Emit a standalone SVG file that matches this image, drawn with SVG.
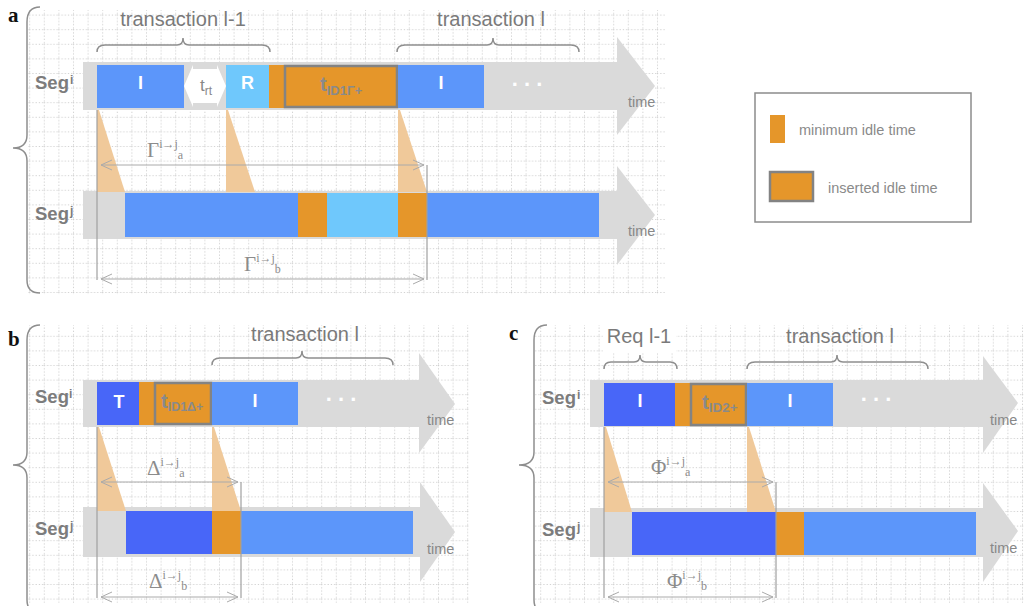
<svg xmlns="http://www.w3.org/2000/svg" width="1024" height="606" viewBox="0 0 1024 606">
  <style>
    .bar { fill: #dadada; }
    .blue { fill: #5c96fa; }
    .dblue { fill: #4866f8; }
    .lblue { fill: #6fc8fc; }
    .org { fill: #e5962a; }
    .ins { fill: #e5962a; stroke: #838383; stroke-width: 2.5; }
    .tri { fill: #f0c99a; }
    .vline { stroke: #a0a0a0; stroke-width: 1.2; }
    .dim { stroke: #aaaaaa; stroke-width: 1; fill: none; marker-start: url(#chev); marker-end: url(#chev); }
    .brace { stroke: #8e8e8e; stroke-width: 1.5; fill: none; }
    .seg { font-family: "Liberation Sans", Arial, sans-serif; font-weight: bold; font-size: 18.5px; fill: #7c7c7c; }
    .sup { font-size: 12px; }
    .lbl { font-family: "Liberation Sans", Arial, sans-serif; font-size: 20px; fill: #7a7a7a; }
    .blk { font-family: "Liberation Sans", Arial, sans-serif; font-weight: bold; font-size: 18px; fill: #ffffff; text-anchor: middle; }
    .dots { font-family: "Liberation Sans", Arial, sans-serif; font-weight: bold; font-size: 22px; fill: #ffffff; text-anchor: middle; }
    .time { font-family: "Liberation Sans", Arial, sans-serif; font-size: 14.5px; fill: #888888; }
    .tid { font-family: "Liberation Sans", Arial, sans-serif; font-weight: bold; font-size: 20px; fill: #8a8a8a; }
    .math { font-family: "Liberation Serif", "Times New Roman", serif; font-size: 21px; fill: #8c8c8c; }
    .mi { font-size: 12px; }
    .panel { font-family: "Liberation Serif", "Times New Roman", serif; font-weight: bold; font-size: 21px; fill: #111111; }
    .leg { font-family: "Liberation Sans", Arial, sans-serif; font-size: 14.5px; fill: #8a8a8a; }
  </style>
  <defs>
    <pattern id="grid" width="14.6" height="14.6" patternUnits="userSpaceOnUse">
      <path d="M0.5,0 V14.6 M0,0.5 H14.6" stroke="#cfcfcf" stroke-width="1" stroke-dasharray="1.2 2" fill="none"/>
    </pattern>
    <marker id="chev" viewBox="0 0 12 12" markerWidth="12" markerHeight="12" refX="11" refY="6" orient="auto-start-reverse" markerUnits="userSpaceOnUse">
      <path d="M0,1 L11,6 L0,11" fill="none" stroke="#aaaaaa" stroke-width="1"/>
    </marker>
  </defs>

  <rect width="1024" height="606" fill="#ffffff"/>

  <!-- dotted background grids -->
  <rect x="28" y="10" width="637" height="285" fill="url(#grid)"/>
  <rect x="28" y="325" width="441" height="278" fill="url(#grid)"/>
  <rect x="535" y="325" width="489" height="278" fill="url(#grid)"/>

  <!-- panel letters -->
  <text class="panel" x="8" y="22">a</text>
  <text class="panel" x="8" y="346">b</text>
  <text class="panel" x="509" y="340">c</text>

  <!-- large grouping braces -->
  <path class="brace" d="M40,7 Q27,7 27,22 L27,135 Q27,148 13,148 Q27,148 27,161 L27,280 Q27,293 40,293"/>
  <path class="brace" d="M40,325 Q27,325 27,340 L27,452 Q27,465 13,465 Q27,465 27,478 L27,600 Q27,613 40,613"/>
  <path class="brace" d="M547,325 Q534,325 534,340 L534,452 Q534,465 519,465 Q534,465 534,478 L534,600 Q534,613 547,613"/>

  <!-- ===== Panel a ===== -->
  <g id="a-transaction-prev">
    <text class="lbl" x="183" y="26" text-anchor="middle">transaction l-1</text>
    <path class="brace" d="M97,52 Q97,45 105,45 L177,45 Q183,45 183,38 Q183,45 189,45 L262,45 Q270,45 270,52"/>
  </g>
  <g id="a-transaction-cur">
    <text class="lbl" x="491" y="26" text-anchor="middle">transaction l</text>
    <path class="brace" d="M397,52 Q397,45 405,45 L487,45 Q493,45 493,38 Q493,45 499,45 L571,45 Q579,45 579,52"/>
  </g>

  <g id="a-seg-i">
    <rect class="bar" x="83" y="62" width="534" height="48"/>
    <polygon class="bar" points="617,37 655,86 617,135"/>
    <text class="seg" x="35" y="89">Seg</text>
    <text class="seg sup" x="70" y="84">i</text>
    <rect class="blue" x="97" y="65" width="87" height="43"/>
    <text class="blk" x="140.5" y="89">I</text>
    <polygon points="184,86 193,65 193,69 217,69 217,65 226,86 217,107 217,103 193,103 193,107" fill="#ffffff"/>
    <text class="time" x="200" y="91" style="font-size:17px">t<tspan font-size="12" dy="4">rt</tspan></text>
    <rect class="lblue" x="226" y="65" width="43" height="43"/>
    <text class="blk" x="247.5" y="89">R</text>
    <rect class="org" x="269" y="65" width="15" height="43"/>
    <rect class="ins" x="285" y="66" width="112" height="41"/>
    <text class="tid" x="320" y="91">t<tspan font-size="13" dy="4">ID1Γ+</tspan></text>
    <rect class="blue" x="398" y="65" width="86" height="43"/>
    <text class="blk" x="441" y="89">I</text>
    <text class="dots" x="527" y="86">. . .</text>
    <text class="time" x="628" y="107">time</text>
  </g>

  <g id="a-seg-j">
    <rect class="bar" x="83" y="191" width="534" height="48"/>
    <polygon class="bar" points="617,166 655,215 617,265"/>
    <text class="seg" x="35" y="220">Seg</text>
    <text class="seg sup" x="70" y="215">j</text>
    <rect class="blue" x="125" y="193" width="173" height="44"/>
    <rect class="org" x="298" y="193" width="29" height="44"/>
    <rect class="lblue" x="327" y="193" width="71" height="44"/>
    <rect class="org" x="398" y="193" width="29" height="44"/>
    <rect class="blue" x="427" y="193" width="172" height="44"/>
    <text class="time" x="628" y="236">time</text>
  </g>

  <g id="a-connectors">
    <polygon class="tri" points="97,110 99,110 125,192 97,192"/>
    <polygon class="tri" points="226,110 228,110 255,192 226,192"/>
    <polygon class="tri" points="398,110 400,110 427,192 398,192"/>
    <line class="vline" x1="97" y1="110" x2="97" y2="280"/>
    <line class="vline" x1="427" y1="165" x2="427" y2="280"/>
    <line class="dim" x1="101" y1="165" x2="424" y2="165"/>
    <line class="dim" x1="101" y1="279" x2="424" y2="279"/>
    <text class="math" x="147" y="157">Γ<tspan class="mi" dy="-9">i→j</tspan><tspan class="mi" dy="11">a</tspan></text>
    <text class="math" x="244" y="271">Γ<tspan class="mi" dy="-9">i→j</tspan><tspan class="mi" dy="11">b</tspan></text>
  </g>

  <g id="legend">
    <rect x="755" y="93" width="216" height="129" fill="#ffffff" stroke="#8c8c8c" stroke-width="1.5"/>
    <rect class="org" x="770" y="115" width="15" height="28"/>
    <text class="leg" x="799" y="135">minimum idle time</text>
    <rect class="ins" x="770" y="172" width="43" height="29"/>
    <text class="leg" x="828" y="193">inserted idle time</text>
  </g>

  <!-- ===== Panel b ===== -->
  <g id="b-transaction-cur">
    <text class="lbl" x="305" y="341" text-anchor="middle">transaction l</text>
    <path class="brace" d="M212,365 Q212,358 220,358 L296,358 Q302,358 302,351 Q302,358 308,358 L385,358 Q393,358 393,365"/>
  </g>

  <g id="b-seg-i">
    <rect class="bar" x="83" y="380" width="336" height="47"/>
    <polygon class="bar" points="419,353 455,404 419,453"/>
    <text class="seg" x="35" y="403">Seg</text>
    <text class="seg sup" x="69" y="398">i</text>
    <rect class="dblue" x="97" y="382" width="42" height="43"/>
    <text class="blk" x="119" y="408">T</text>
    <rect class="org" x="139" y="382" width="15" height="43"/>
    <rect class="ins" x="155" y="383" width="56" height="41"/>
    <text class="tid" x="161" y="408">t<tspan font-size="12.5" dy="3">ID1Δ+</tspan></text>
    <rect class="blue" x="212" y="382" width="86" height="43"/>
    <text class="blk" x="255" y="407">I</text>
    <text class="dots" x="341" y="401">. . .</text>
    <text class="time" x="427" y="425">time</text>
  </g>

  <g id="b-seg-j">
    <rect class="bar" x="83" y="507" width="337" height="50"/>
    <polygon class="bar" points="420,482 455,532 420,582"/>
    <text class="seg" x="35" y="535">Seg</text>
    <text class="seg sup" x="70" y="530">j</text>
    <rect class="dblue" x="126" y="511" width="86" height="43"/>
    <rect class="org" x="212" y="511" width="29" height="43"/>
    <rect class="blue" x="241" y="511" width="172" height="43"/>
    <text class="time" x="427" y="554">time</text>
  </g>

  <g id="b-connectors">
    <polygon class="tri" points="97,427 99,427 126,511 97,511"/>
    <polygon class="tri" points="212,427 214,427 241,511 212,511"/>
    <line class="vline" x1="97" y1="427" x2="97" y2="598"/>
    <line class="vline" x1="241" y1="482" x2="241" y2="598"/>
    <line class="dim" x1="101" y1="482" x2="238" y2="482"/>
    <line class="dim" x1="101" y1="597" x2="238" y2="597"/>
    <text class="math" x="147" y="475">Δ<tspan class="mi" dy="-9">i→j</tspan><tspan class="mi" dy="11">a</tspan></text>
    <text class="math" x="149" y="588">Δ<tspan class="mi" dy="-9">i→j</tspan><tspan class="mi" dy="11">b</tspan></text>
  </g>

  <!-- ===== Panel c ===== -->
  <g id="c-request-prev">
    <rect x="603" y="325" width="73" height="28" fill="#ffffff"/>
    <text class="lbl" x="639" y="343" text-anchor="middle">Req l-1</text>
    <path class="brace" d="M604,369 Q604,362 611,362 L634,362 Q640,362 640,355 Q640,362 646,362 L670,362 Q677,362 677,369"/>
  </g>
  <g id="c-transaction-cur">
    <text class="lbl" x="840" y="343" text-anchor="middle">transaction l</text>
    <path class="brace" d="M747,369 Q747,362 755,362 L831,362 Q837,362 837,355 Q837,362 843,362 L920,362 Q928,362 928,369"/>
  </g>

  <g id="c-seg-i">
    <rect class="bar" x="590" y="380" width="393" height="47"/>
    <polygon class="bar" points="983,356 1018,403 983,453"/>
    <text class="seg" x="542" y="404">Seg</text>
    <text class="seg sup" x="577" y="399">i</text>
    <rect class="dblue" x="604" y="383" width="71" height="43"/>
    <text class="blk" x="640" y="407">I</text>
    <rect class="org" x="675" y="383" width="15" height="43"/>
    <rect class="ins" x="691" y="384" width="55" height="41"/>
    <text class="tid" x="702" y="409">t<tspan font-size="13.5" dy="3">ID2+</tspan></text>
    <rect class="blue" x="747" y="383" width="86" height="43"/>
    <text class="blk" x="790" y="407">I</text>
    <text class="dots" x="876" y="401">. . .</text>
    <text class="time" x="990" y="425">time</text>
  </g>

  <g id="c-seg-j">
    <rect class="bar" x="590" y="508" width="393" height="49"/>
    <polygon class="bar" points="983,483 1018,531 983,582"/>
    <text class="seg" x="542" y="536">Seg</text>
    <text class="seg sup" x="577" y="531">j</text>
    <rect class="dblue" x="632" y="512" width="144" height="43"/>
    <rect class="org" x="776" y="512" width="28" height="43"/>
    <rect class="blue" x="804" y="512" width="172" height="43"/>
    <text class="time" x="990" y="553">time</text>
  </g>

  <g id="c-connectors">
    <polygon class="tri" points="604,427 606,427 632,512 604,512"/>
    <polygon class="tri" points="747,427 749,427 776,512 747,512"/>
    <line class="vline" x1="604" y1="427" x2="604" y2="598"/>
    <line class="vline" x1="776" y1="482" x2="776" y2="598"/>
    <line class="dim" x1="608" y1="482" x2="773" y2="482"/>
    <line class="dim" x1="608" y1="597" x2="773" y2="597"/>
    <text class="math" x="651" y="474">Φ<tspan class="mi" dy="-9">i→j</tspan><tspan class="mi" dy="11">a</tspan></text>
    <text class="math" x="667" y="588">Φ<tspan class="mi" dy="-9">i→j</tspan><tspan class="mi" dy="11">b</tspan></text>
  </g>
</svg>
